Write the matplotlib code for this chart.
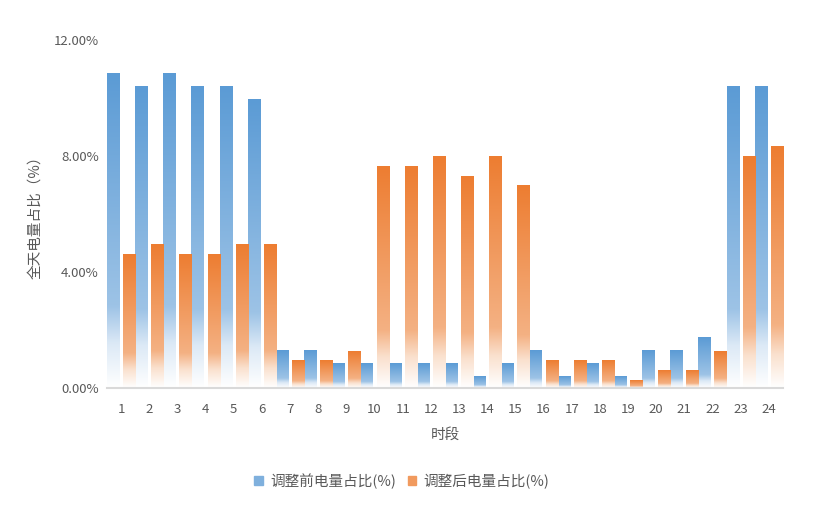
import numpy as np
import matplotlib.pyplot as plt
from matplotlib.colors import LinearSegmentedColormap
from matplotlib.patches import Patch

plt.rcParams['font.family'] = ['Noto Sans CJK SC', 'DejaVu Sans']

hours = [str(i) for i in range(1, 25)]
before = [10.86, 10.41, 10.86, 10.41, 10.41, 9.93, 1.29, 1.29, 0.85, 0.85, 0.85, 0.85,
          0.85, 0.40, 0.85, 1.29, 0.40, 0.85, 0.40, 1.29, 1.29, 1.75, 10.41, 10.41]
after = [4.61, 4.95, 4.61, 4.61, 4.95, 4.95, 0.95, 0.95, 1.26, 7.62, 7.62, 7.97,
         7.28, 7.97, 6.97, 0.95, 0.95, 0.95, 0.27, 0.61, 0.61, 1.27, 7.97, 8.31]
series_names = ['调整前电量占比(%)', '调整后电量占比(%)']
yticks = [0, 4, 8, 12]

blue_cmap = LinearSegmentedColormap.from_list(
    'b', [(0, '#5B9BD5'), (0.74, '#9DC3E6'), (0.86, '#DCE9F6'), (1, '#FFFFFF')])
orange_cmap = LinearSegmentedColormap.from_list(
    'o', [(0, '#ED7D31'), (0.74, '#F4B183'), (0.86, '#FAE0CD'), (1, '#FFFFFF')])
grad = np.linspace(0, 1, 256).reshape(-1, 1)

fig = plt.figure(figsize=(8.25, 5.19), dpi=100)
ax = fig.add_axes([0.1297, 0.2524, 0.8193, 0.6706])

x = np.arange(len(hours))
w = 0.43
off = 0.285
b1 = ax.bar(x - off, before, w, color='none', edgecolor='none')
b2 = ax.bar(x + off, after, w, color='none', edgecolor='none')
for bars, cmap in [(b1, blue_cmap), (b2, orange_cmap)]:
    for b in bars:
        x0 = b.get_x()
        ax.imshow(grad, cmap=cmap, aspect='auto', interpolation='bilinear',
                  extent=[x0, x0 + b.get_width(), 0, b.get_height()], zorder=2)

ax.set_xlim(-0.5, 23.5)
ax.set_ylim(0, 12)
ax.set_yticks(yticks)
ax.set_yticklabels([f'{v:.2f}%' for v in yticks])
ax.set_xticks(x)
ax.set_xticklabels(hours)
ax.tick_params(length=0, labelsize=9.5, colors='#595959')
ax.tick_params(axis='x', pad=11)
ax.tick_params(axis='y', pad=6)
for s in ['top', 'right', 'left']:
    ax.spines[s].set_visible(False)
ax.spines['bottom'].set_color('#D9D9D9')
ax.spines['bottom'].set_linewidth(1.5)
ax.spines['bottom'].set_zorder(3)

ax.set_xlabel('时段', fontsize=10.5, color='#595959', labelpad=8)
ax.set_ylabel('全天电量占比（%）', fontsize=10.5, color='#595959', labelpad=8)

handles = [Patch(color='#7FB0DD'), Patch(color='#F19A5E')]
fig.legend(handles, series_names, loc='center', bbox_to_anchor=(0.487, 0.073),
           ncol=2, frameon=False, fontsize=10.5, labelcolor='#595959',
           handlelength=0.6, handleheight=0.6, handletextpad=0.5, columnspacing=0.8)

fig.savefig('out.png', dpi=100)
